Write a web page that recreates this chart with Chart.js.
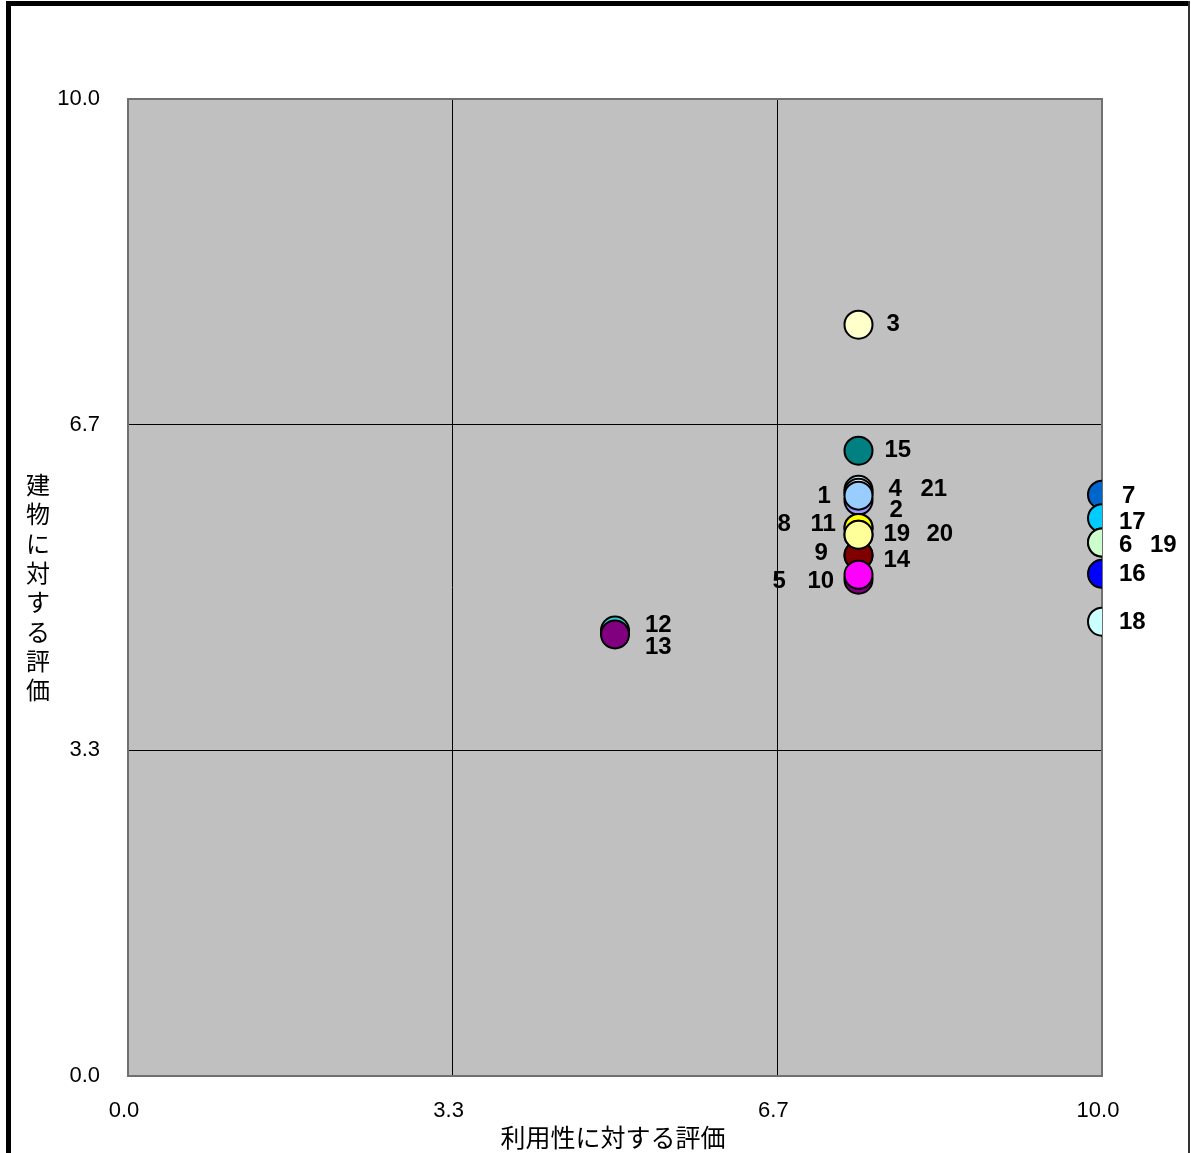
<!DOCTYPE html>
<html>
<head>
<meta charset="utf-8">
<script src="https://cdn.jsdelivr.net/npm/chart.js@4/dist/chart.umd.min.js"></script>
<style>
  html, body { margin: 0; padding: 0; background: #fff; }
  canvas { display: block; }
</style>
</head>
<body>
<canvas id="chart" width="1191" height="1153"></canvas>
<script>
// Survey items: number shown next to each marker, in drawing order
const pointLabels = ['3', '15', '21', '1', '2', '4', '8', '11', '9', '14', '19', '20', '5', '10', '12', '13', '7', '17', '6', '19', '16', '18'];
// 利用性に対する評価 (x)
const usability = [7.5, 7.5, 7.5, 7.5, 7.5, 7.5, 7.5, 7.5, 7.5, 7.5, 7.5, 7.5, 7.5, 7.5, 5.0, 5.0, 10.0, 10.0, 10.0, 10.0, 10.0, 10.0];
// 建物に対する評価 (y)
const building  = [7.69, 6.40, 6.00, 5.97, 5.89, 5.94, 5.61, 5.61, 5.33, 5.33, 5.54, 5.54, 5.08, 5.13, 4.56, 4.52, 5.95, 5.71, 5.46, 5.46, 5.14, 4.65];
// Axis ticks (thirds of the 0–10 range)
const axisTicks = [0, 3.3333, 6.6667, 10];
const xTitle = '利用性に対する評価';
const yTitle = '建物に対する評価';

// Marker fill colours
const pointColors = ['#FFFFCC', '#008080', '#CCFFFF', '#FFFFFF', '#9999FF', '#99CCFF', '#FFFF00', '#FFFF00',
  '#800000', '#800000', '#FFFF99', '#FFFF99', '#800080', '#FF00FF', '#33CCCC', '#800080',
  '#0066CC', '#00CCFF', '#CCFFCC', '#CCFFCC', '#0000FF', '#CCFFFF'];
// Label placement relative to the marker centre (px): [dx to text start, dy]
const labelOffsets = [[28, 0], [26, 0], [62, 0], [-41, 4], [31, 10], [30, -6], [-81, -4], [-48, -4],
  [-44, -2], [25, 5], [25, 0], [68, 0], [-86, 2], [-51, 7], [30, -5], [30, 13],
  [20, 2], [17, 4], [17, 3], [48, 3], [17, 1], [17, 1]];

const decor = {
  id: 'decor',
  beforeDraw(chart) {
    const { ctx, chartArea: a } = chart;
    ctx.save();
    ctx.fillStyle = '#ffffff';
    ctx.fillRect(0, 0, chart.width, chart.height);
    // plot background
    ctx.fillStyle = '#C0C0C0';
    ctx.fillRect(a.left, a.top, a.right - a.left, a.bottom - a.top);
    // outer frame
    ctx.fillStyle = '#000000';
    ctx.fillRect(6, 1, 5, chart.height);
    ctx.fillRect(6, 1, 1184, 5);
    ctx.fillStyle = '#333333';
    ctx.fillRect(1188, 1, 2, chart.height);
    ctx.restore();
  },
  beforeDatasetsDraw(chart) {
    const { ctx, chartArea: a } = chart;
    ctx.save();
    ctx.strokeStyle = '#707070';
    ctx.lineWidth = 2;
    ctx.strokeRect(a.left, a.top, a.right - a.left, a.bottom - a.top);
    ctx.restore();
  },
  afterDatasetsDraw(chart) {
    const { ctx } = chart;
    const pts = chart.getDatasetMeta(0).data;
    ctx.save();
    ctx.fillStyle = '#000';
    ctx.font = 'bold 24px "Liberation Sans", Arial, sans-serif';
    ctx.textAlign = 'left';
    ctx.textBaseline = 'middle';
    pts.forEach((p, i) => {
      const [dx, dy] = labelOffsets[i];
      ctx.fillText(pointLabels[i], p.x + dx, p.y + dy);
    });
    ctx.restore();
  },
  afterDraw(chart) {
    const { ctx, chartArea: a } = chart;
    ctx.save();
    ctx.fillStyle = '#000';
    ctx.textAlign = 'center';
    ctx.textBaseline = 'middle';
    // x-axis title
    ctx.font = '25px "Noto Sans CJK JP", sans-serif';
    ctx.fillText(xTitle, (a.left + a.right) / 2 - 2, 1137);
    // y-axis title, stacked vertically
    ctx.font = '24px "Noto Sans CJK JP", sans-serif';
    const chars = Array.from(yTitle);
    const step = 29.3;
    const startY = 485;
    chars.forEach((ch, i) => ctx.fillText(ch, 38, startY + i * step));
    ctx.restore();
  }
};

const tickFont = { family: '"Liberation Sans", Arial, sans-serif', size: 22 };

const scaleCommon = {
  type: 'linear',
  min: 0,
  max: 10,
  afterBuildTicks(scale) { scale.ticks = axisTicks.map(v => ({ value: v })); },
  border: { display: false },
  grid: {
    drawTicks: false,
    lineWidth: 1,
    color: (c) => (c.tick && (c.tick.value === 0 || c.tick.value === 10)) ? 'rgba(0,0,0,0)' : '#000000'
  },
  ticks: {
    color: '#000',
    font: tickFont,
    callback: (v) => Number(v).toFixed(1),
    autoSkip: false,
    maxRotation: 0
  }
};

new Chart(document.getElementById('chart'), {
  type: 'scatter',
  data: {
    labels: pointLabels,
    datasets: [{
      data: usability.map((x, i) => ({ x, y: building[i] })),
      pointRadius: 14,
      pointHoverRadius: 14,
      pointBackgroundColor: pointColors,
      pointBorderColor: '#000000',
      pointBorderWidth: 2,
      clip: 0
    }]
  },
  options: {
    responsive: false,
    animation: false,
    devicePixelRatio: 1,
    events: [],
    layout: { padding: { left: 0, top: 99, right: 89, bottom: 0 } },
    plugins: { legend: { display: false }, tooltip: { enabled: false }, title: { display: false } },
    scales: {
      x: Object.assign({}, scaleCommon, {
        position: 'bottom',
        ticks: Object.assign({}, scaleCommon.ticks, { padding: 22, labelOffset: -4 }),
        afterFit(scale) { scale.height = 77; }
      }),
      y: Object.assign({}, scaleCommon, {
        position: 'left',
        ticks: Object.assign({}, scaleCommon.ticks, { padding: 28 }),
        afterFit(scale) { scale.width = 128; }
      })
    }
  },
  plugins: [decor]
});
</script>
</body>
</html>
